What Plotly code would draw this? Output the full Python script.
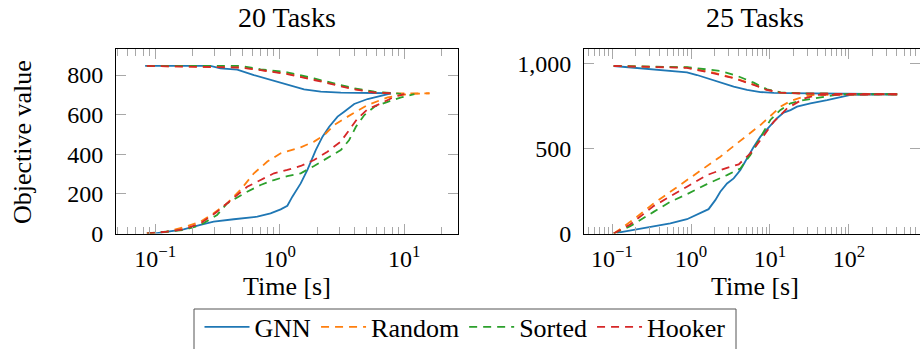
import plotly.graph_objects as go

# ---------------- data: 20 Tasks ----------------
gnn20_up_t = [0.083, 0.278, 0.334, 0.456, 0.621, 0.90, 1.23, 1.57, 2.14, 3.10, 7.85]
gnn20_up_v = [846, 846, 834, 827, 800, 771, 745, 728, 716, 711, 708]
gnn20_lo_t = [0.1, 0.169, 0.231, 0.295, 0.428, 0.661, 0.845, 1.019, 1.153, 1.265, 1.476, 1.671,
              1.95, 2.21, 2.50, 2.92, 3.30, 3.97, 5.09, 6.53, 7.85]
gnn20_lo_v = [0, 21, 43, 60, 72, 85, 102, 122, 140, 186, 253, 321, 421, 489, 539, 590, 615, 654,
              679, 694, 708]

rnd20_up_t = [0.0857, 0.484, 0.703, 1.153, 1.89, 2.74, 3.97, 5.77, 8.36, 16.0]
rnd20_up_v = [846, 839, 826, 807, 778, 753, 730, 713, 707, 707]
rnd20_lo_t = [0.0857, 0.124, 0.169, 0.231, 0.295, 0.378, 0.484, 0.621, 0.796, 1.019, 1.476, 1.89,
              2.28, 2.74, 3.52, 5.09, 7.38, 10.7, 16.0]
rnd20_lo_v = [0, 9, 31, 60, 102, 152, 220, 304, 363, 405, 435, 464, 497, 548, 590, 649, 687, 704, 708]

srt20_up_t = [0.0857, 0.484, 0.703, 1.153, 1.89, 2.74, 3.97, 5.77, 9.46]
srt20_up_v = [846, 846, 829, 814, 783, 758, 733, 716, 705]
srt20_lo_t = [0.0857, 0.124, 0.169, 0.231, 0.314, 0.378, 0.548, 0.703, 0.90, 1.153, 1.476, 1.89,
              2.42, 3.10, 3.62, 4.10, 4.79, 5.77, 7.38, 9.46, 12.1]
srt20_lo_v = [0, 8, 17, 43, 93, 152, 211, 245, 270, 290, 304, 341, 379, 421, 472, 539, 598, 640,
              665, 687, 704]

hkr20_up_t = [0.0857, 0.484, 0.703, 1.153, 1.89, 2.74, 3.97, 5.77, 8.36]
hkr20_up_v = [846, 838, 825, 805, 775, 750, 728, 712, 707]
hkr20_lo_t = [0.0857, 0.124, 0.169, 0.231, 0.314, 0.428, 0.548, 0.703, 0.90, 1.153, 1.476, 1.89,
              2.42, 3.10, 3.62, 4.23, 5.09, 6.53, 8.36, 10.07]
hkr20_lo_v = [0, 9, 21, 51, 110, 178, 236, 270, 304, 321, 341, 371, 413, 464, 522, 581, 627, 657,
              691, 704]

# ---------------- data: 25 Tasks ----------------
gnn25_up_t = [0.105, 0.336, 0.889, 1.19, 1.59, 2.35, 3.47, 5.13, 7.57, 11.2, 16.5, 408]
gnn25_up_v = [984, 965, 947, 931, 912, 886, 863, 843, 831, 826, 824, 818]
gnn25_lo_t = [0.115, 0.207, 0.336, 0.547, 0.889, 1.31, 1.67, 2.03, 2.35, 2.86, 3.47, 4.22, 5.13,
              6.23, 7.57, 9.64, 12.3, 14.9, 18.2, 22.0, 32.5, 52.9, 78.1, 105, 408]
gnn25_lo_v = [4, 24, 39, 59, 84, 118, 143, 196, 245, 294, 324, 373, 441, 510, 569, 624, 677, 710,
              725, 745, 765, 784, 800, 814, 818]

rnd25_up_t = [0.105, 0.336, 0.889, 1.94, 3.47, 6.23, 9.19, 13.6, 26.8, 408]
rnd25_up_v = [984, 980, 975, 945, 914, 875, 843, 828, 822, 818]
rnd25_lo_t = [0.105, 0.140, 0.207, 0.336, 0.547, 0.889, 1.45, 2.35, 3.47, 5.13, 7.57, 10.1, 13.6,
              18.2, 26.8, 35.9, 408]
rnd25_lo_v = [0, 39, 98, 176, 245, 314, 382, 451, 514, 578, 637, 690, 745, 778, 804, 814, 818]

srt25_up_t = [0.105, 0.336, 0.889, 2.35, 3.83, 6.23, 9.19, 13.6, 26.8, 408]
srt25_up_v = [984, 980, 977, 955, 926, 886, 847, 829, 822, 818]
srt25_lo_t = [0.105, 0.170, 0.336, 0.547, 0.889, 1.59, 2.86, 4.22, 5.65, 7.57, 10.1, 13.6, 18.2,
              26.8, 47.0, 78.1, 408]
srt25_lo_v = [0, 43, 127, 186, 231, 290, 343, 382, 461, 569, 667, 726, 765, 784, 804, 818, 818]

hkr25_up_t = [0.105, 0.336, 0.889, 1.94, 3.47, 6.23, 9.19, 13.6, 26.8, 408]
hkr25_up_v = [984, 980, 973, 941, 912, 873, 843, 828, 822, 818]
hkr25_lo_t = [0.105, 0.170, 0.336, 0.547, 0.889, 1.59, 2.86, 4.02, 5.65, 7.57, 11.2, 16.5, 26.8,
              39.5, 408]
hkr25_lo_v = [0, 53, 161, 220, 275, 343, 386, 406, 471, 549, 657, 735, 792, 814, 818]

series_names = ["GNN", "Random", "Sorted", "Hooker"]
series_colors = ["#1f77b4", "#ff7f0e", "#2ca02c", "#d62728"]
series_dash = ["solid", "8px,6px", "8px,6px", "8px,6px"]

panel20 = [(gnn20_up_t, gnn20_up_v, gnn20_lo_t, gnn20_lo_v),
           (rnd20_up_t, rnd20_up_v, rnd20_lo_t, rnd20_lo_v),
           (srt20_up_t, srt20_up_v, srt20_lo_t, srt20_lo_v),
           (hkr20_up_t, hkr20_up_v, hkr20_lo_t, hkr20_lo_v)]
panel25 = [(gnn25_up_t, gnn25_up_v, gnn25_lo_t, gnn25_lo_v),
           (rnd25_up_t, rnd25_up_v, rnd25_lo_t, rnd25_lo_v),
           (srt25_up_t, srt25_up_v, srt25_lo_t, srt25_lo_v),
           (hkr25_up_t, hkr25_up_v, hkr25_lo_t, hkr25_lo_v)]

panel_titles = ["20 Tasks", "25 Tasks"]
x_tick_vals_20 = [0.1, 1, 10]
x_tick_text_20 = ["10<sup>−1</sup>", "10<sup>0</sup>", "10<sup>1</sup>"]
x_tick_vals_25 = [0.1, 1, 10, 100]
x_tick_text_25 = ["10<sup>−1</sup>", "10<sup>0</sup>", "10<sup>1</sup>", "10<sup>2</sup>"]
y_tick_vals_20 = [0, 200, 400, 600, 800]
y_tick_vals_25 = [0, 500, 1000]
y_tick_text_25 = ["0", "500", "1,000"]

FONT = "Liberation Serif, Times New Roman, serif"
W, H = 920, 349

fig = go.Figure()

for pi, (panel, xa, ya) in enumerate([(panel20, "x", "y"), (panel25, "x2", "y2")]):
    for si, (ut, uv, lt, lv) in enumerate(panel):
        for k, (tt, vv) in enumerate([(ut, uv), (lt, lv)]):
            fig.add_trace(go.Scatter(
                x=tt, y=vv, mode="lines", xaxis=xa, yaxis=ya,
                name=series_names[si], legendgroup=series_names[si],
                showlegend=(pi == 0 and k == 0),
                line=dict(color=series_colors[si], width=1.8, dash=series_dash[si]),
            ))

def minor_vals(lo_exp, hi_exp):
    return [m * 10.0 ** e for e in range(lo_exp, hi_exp + 1) for m in range(2, 10)]

tick_col = "#a8a8a8"
tick_font = dict(family=FONT, size=24, color="black")
common_x = dict(type="log", showgrid=False, zeroline=False, showline=True, linecolor="black",
                linewidth=1, mirror="ticks", ticks="inside", ticklen=10, tickcolor=tick_col,
                tickfont=tick_font, ticklabelstandoff=4)
common_y = dict(showgrid=False, zeroline=False, showline=True, linecolor="black", linewidth=1,
                mirror="ticks", ticks="inside", ticklen=10, tickcolor=tick_col,
                tickfont=tick_font, ticklabelstandoff=7)

ydom = [(H - 233.5) / H, (H - 49.3) / H]
fig.update_layout(
    width=W, height=H, margin=dict(l=0, r=0, t=0, b=0, autoexpand=False),
    paper_bgcolor="white", plot_bgcolor="white",
    font=dict(family=FONT, color="black"),
    xaxis=dict(common_x, domain=[116 / W, 458 / W], range=[-1.315, 1.433], anchor="y",
               tickvals=x_tick_vals_20, ticktext=x_tick_text_20,
               minor=dict(tickvals=minor_vals(-2, 1), ticks="inside", ticklen=6.5, tickcolor=tick_col)),
    yaxis=dict(common_y, domain=ydom, range=[0, 930], anchor="x",
               tickvals=y_tick_vals_20),
    xaxis2=dict(common_x, domain=[584 / W, 1.0], range=[-1.355, 2.90], anchor="y2",
                tickvals=x_tick_vals_25, ticktext=x_tick_text_25,
                minor=dict(tickvals=minor_vals(-2, 2), ticks="inside", ticklen=6.5, tickcolor=tick_col)),
    yaxis2=dict(common_y, domain=ydom, range=[0, 1082], anchor="x2",
                tickvals=y_tick_vals_25, ticktext=y_tick_text_25),
    legend=dict(orientation="h", x=465 / W, xanchor="center", y=(H - 327) / H, yanchor="middle",
                borderwidth=0, bgcolor="rgba(0,0,0,0)",
                font=dict(family=FONT, size=26, color="black"), itemwidth=45),
    showlegend=True,
    shapes=[dict(type="rect", xref="paper", yref="paper",
                 x0=194 / W, x1=736 / W, y0=-0.2, y1=(H - 309) / H,
                 line=dict(color="#555555", width=1), fillcolor="rgba(0,0,0,0)", layer="below")],
)

ann = []
for title, cx in zip(panel_titles, [287, 755]):
    ann.append(dict(text=title, x=cx / W, y=(H - 17) / H, xref="paper", yref="paper",
                    showarrow=False, xanchor="center", yanchor="middle",
                    font=dict(family=FONT, size=28, color="black")))
    ann.append(dict(text="Time [s]", x=cx / W, y=(H - 286) / H, xref="paper", yref="paper",
                    showarrow=False, xanchor="center", yanchor="middle",
                    font=dict(family=FONT, size=26, color="black")))
ann.append(dict(text="Objective value", x=22 / W, y=(H - 142) / H, xref="paper", yref="paper",
                showarrow=False, xanchor="center", yanchor="middle", textangle=-90,
                font=dict(family=FONT, size=26, color="black")))
fig.update_layout(annotations=ann)

fig.write_html("out.html")
